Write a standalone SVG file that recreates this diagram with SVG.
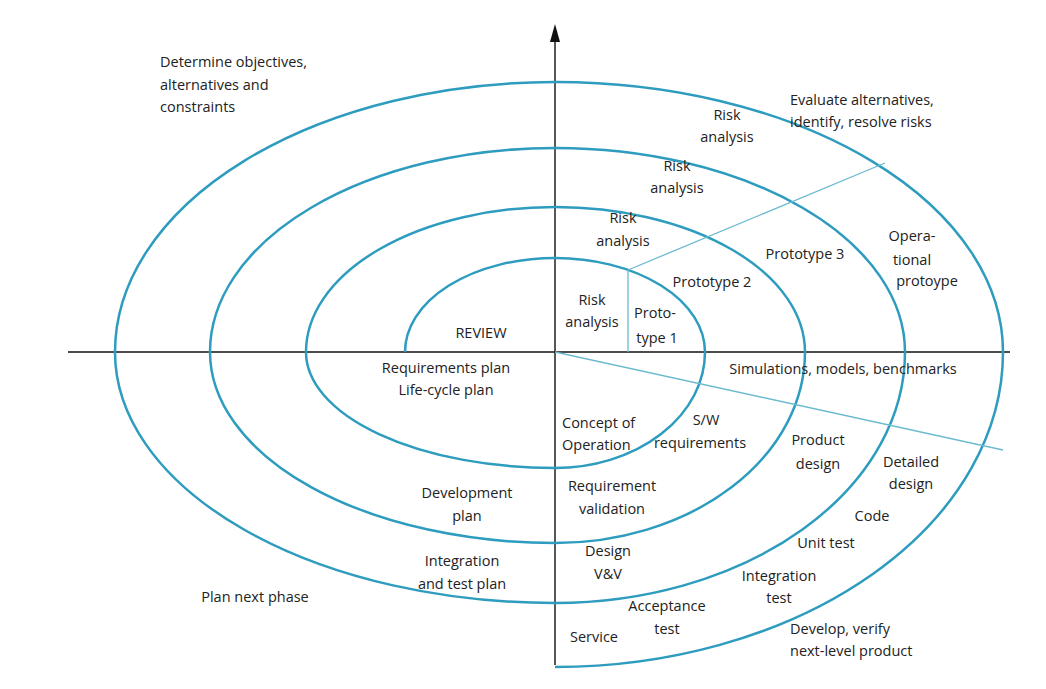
<svg xmlns="http://www.w3.org/2000/svg" width="1046" height="689" viewBox="0 0 1046 689">
<style>
text{font-family:"Open Sans","Liberation Sans",sans-serif;font-size:14.5px;fill:#222;text-anchor:middle}
.l{text-anchor:start}
.sp{fill:none;stroke:#2d9cbf;stroke-width:2.5}
.rad{fill:none;stroke:#6bbad0;stroke-width:1.3}
.ax{stroke:#111;stroke-width:1.4;fill:none}
</style>
<rect width="1046" height="689" fill="#fff"/>
<g id="connectors">
<path class="ax" d="M68,352 H1010"/>
<path class="ax" d="M555,665 V38"/>
<path d="M555,24 L550,42 L560,42 Z" fill="#111"/>
<path class="sp" d="M405,352 A150,94 0 0 1 555,258 A150,94 0 0 1 705,352 A150,116 0 0 1 555,468 A249,116 0 0 1 306,352 A249,145 0 0 1 555,207 A250,145 0 0 1 805,352 A250,191 0 0 1 555,543 A345,191 0 0 1 210,352 A345,204 0 0 1 555,148 A350,204 0 0 1 905,352 A350,251 0 0 1 555,603 A440,251 0 0 1 115,352 A440,270 0 0 1 555,82 A448,270 0 0 1 1003,352 A448,315 0 0 1 555,667"/>
<path class="rad" d="M628,270 V352 M628,270 L885,163 M555,352 L1003,450"/>
</g>
<g id="labels">
<text class="l" x="160" y="67">Determine objectives,</text>
<text class="l" x="160" y="90">alternatives and</text>
<text class="l" x="160" y="112">constraints</text>
<text class="l" x="790" y="105">Evaluate alternatives,</text>
<text class="l" x="790" y="127">identify, resolve risks</text>
<text x="727" y="120">Risk</text><text x="727" y="142">analysis</text>
<text x="677" y="171">Risk</text><text x="677" y="193">analysis</text>
<text x="623" y="223">Risk</text><text x="623" y="246">analysis</text>
<text x="592" y="305">Risk</text><text x="592" y="327">analysis</text>
<text x="655" y="318">Proto-</text><text x="657" y="343">type 1</text>
<text x="712" y="287">Prototype 2</text>
<text x="805" y="259">Prototype 3</text>
<text x="912" y="241">Opera-</text><text x="912" y="265">tional</text><text x="927" y="286">protoype</text>
<text x="481" y="338">REVIEW</text>
<text x="446" y="373">Requirements plan</text><text x="446" y="395">Life-cycle plan</text>
<text x="843" y="374">Simulations, models, benchmarks</text>
<text class="l" x="562" y="428">Concept of</text><text class="l" x="562" y="450">Operation</text>
<text x="706" y="425">S/W</text><text x="700" y="448">requirements</text>
<text x="818" y="445">Product</text><text x="818" y="469">design</text>
<text x="911" y="467">Detailed</text><text x="911" y="489">design</text>
<text x="612" y="491">Requirement</text><text x="612" y="514">validation</text>
<text x="467" y="498">Development</text><text x="467" y="521">plan</text>
<text x="872" y="521">Code</text>
<text x="826" y="548">Unit test</text>
<text x="608" y="556">Design</text><text x="608" y="579">V&amp;V</text>
<text x="779" y="581">Integration</text><text x="779" y="603">test</text>
<text x="462" y="566">Integration</text><text x="462" y="589">and test plan</text>
<text x="255" y="602">Plan next phase</text>
<text x="667" y="611">Acceptance</text><text x="667" y="634">test</text>
<text x="594" y="642">Service</text>
<text class="l" x="790" y="634">Develop, verify</text><text class="l" x="790" y="656">next-level product</text>
</g>
</svg>
